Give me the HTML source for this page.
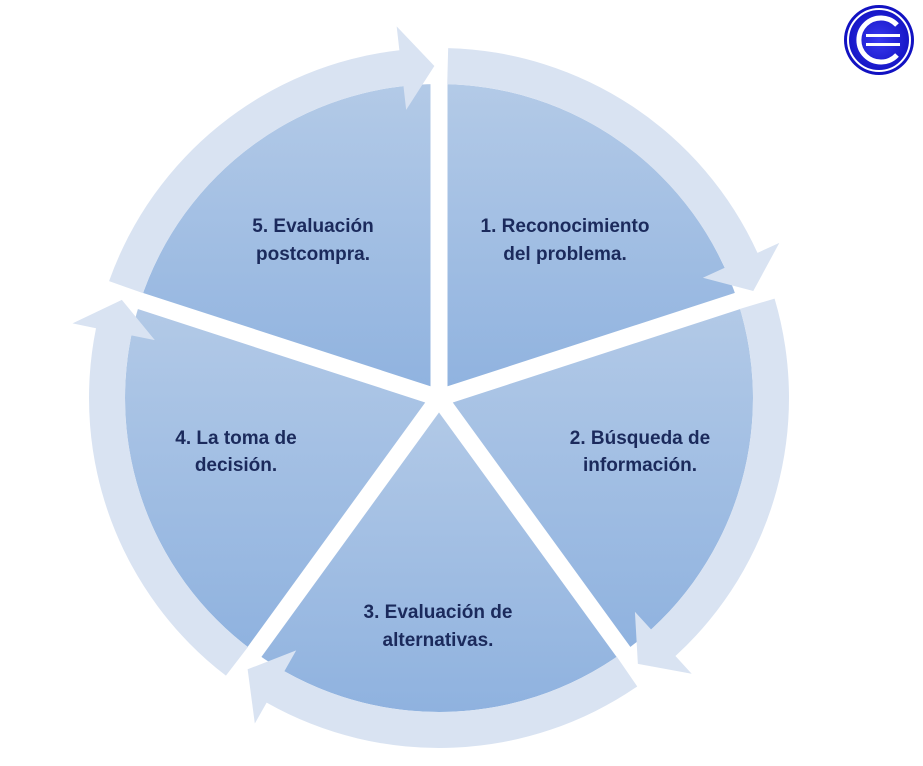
<!DOCTYPE html>
<html><head><meta charset="utf-8"><style>
html,body{margin:0;padding:0;background:#fff;}
svg{display:block}
text{font-family:"Liberation Sans",sans-serif;font-weight:bold;font-size:19px;fill:#1b2a5c;text-anchor:middle}
</style></head><body>
<svg id="s" width="923" height="766" viewBox="0 0 923 766" xmlns="http://www.w3.org/2000/svg">
<defs>
<linearGradient id="wg" x1="0" y1="0" x2="0" y2="1"><stop offset="0" stop-color="#b3cae7"/><stop offset="1" stop-color="#8fb2df"/></linearGradient>
<linearGradient id="rg" x1="0" y1="0" x2="0" y2="1"><stop offset="0" stop-color="#e0e8f4"/><stop offset="1" stop-color="#d3dff0"/></linearGradient>
<radialGradient id="lg"><stop offset="0" stop-color="#3a3af0"/><stop offset="1" stop-color="#1010c0"/></radialGradient>
</defs>
<g id="w"></g>
<g id="r"></g>
<g>
<text x="565" y="232">1. Reconocimiento</text><text x="565" y="260">del problema.</text>
<text x="640" y="444">2. Búsqueda de</text><text x="640" y="471">información.</text>
<text x="438" y="618">3. Evaluación de</text><text x="438" y="646">alternativas.</text>
<text x="236" y="444">4. La toma de</text><text x="236" y="471">decisión.</text>
<text x="313" y="232">5. Evaluación</text><text x="313" y="260">postcompra.</text>
</g>
<g>
<circle cx="879" cy="40" r="35" fill="url(#lg)"/>
<circle cx="879" cy="40" r="31" fill="none" stroke="#fff" stroke-width="2"/>
<path d="M897 25 A22 22 0 1 0 897 55" fill="none" stroke="#fff" stroke-width="5"/>
<rect x="866" y="34" width="34" height="3" fill="#fff"/>
<rect x="866" y="43" width="34" height="3" fill="#fff"/>
</g>
</svg>
<script>
var cx=439,cy=398,R=314,NS="http://www.w3.org/2000/svg";
function P(a,r){var t=(a-90)*Math.PI/180;return [cx+r*Math.cos(t),cy+r*Math.sin(t)];}
function el(g,n,at){var e=document.createElementNS(NS,n);for(var k in at)e.setAttribute(k,at[k]);document.getElementById(g).appendChild(e);return e;}
for(var i=0;i<5;i++){
 var a=i*72,b=a+72,p=P(a,R),q=P(b,R);
 var x0=Math.min(p[0],q[0],cx),x1=Math.max(p[0],q[0],cx);
 el("w","path",{d:"M"+cx+" "+cy+" L"+p+" A"+R+" "+R+" 0 0 1 "+q+" Z",fill:"url(#wg)"});
}
for(var i=0;i<5;i++){var p=P(i*72,R+45);el("w","line",{x1:cx,y1:cy,x2:p[0],y2:p[1],stroke:"#fff","stroke-width":17});}
var r1=314,r2=350;
for(var i=0;i<5;i++){
 var s=i*72+1.5,e=i*72+72-6.5,t=i*72+72-0.8;
 var A=P(s,r2),B=P(e,r2),C=P(e,r1),D=P(s,r1),H1=P(e,374),H2=P(e,290),T=P(t,332);
 el("r","path",{d:"M"+D+" L"+A+" A"+r2+" "+r2+" 0 0 1 "+B+" L"+H1+" L"+T+" L"+H2+" L"+C+" A"+r1+" "+r1+" 0 0 0 "+D+" Z",fill:"#d9e3f2"});
}
</script>
</body></html>
